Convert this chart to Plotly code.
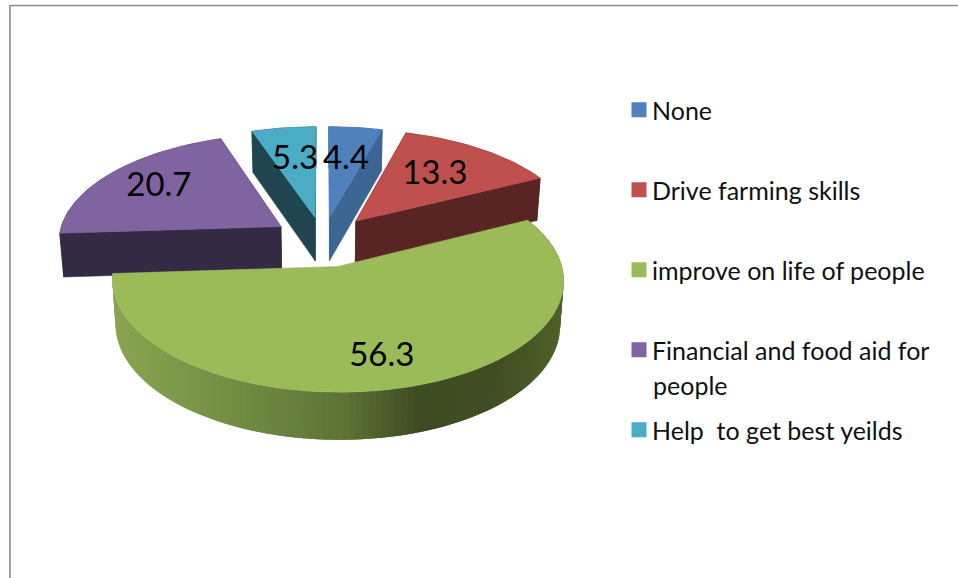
import math
import plotly.graph_objects as go

# Data
categories = ["None", "Drive farming skills", "improve on life of people",
              "Financial and food aid for", "Help  to get best yeilds"]
category_continuation = "people"
values = [4.4, 13.3, 56.3, 20.7, 5.3]
value_labels = ["4.4", "13.3", "56.3", "20.7", "5.3"]

# Style
top_colors = ["#4f81bd", "#c0504d", "#9bbb59", "#8064a2", "#4bacc6"]
wall_colors = ["#3c6594", "#592424", "#5f7336", "#352a44", "#1f4650"]
green_stops = [(112, (138, 165, 81)), (230, (116, 143, 68)), (350, (94, 115, 54)),
               (425, (63, 75, 34)), (500, (64, 77, 35)), (562, (78, 96, 42))]
draw_order = [0, 4, 1, 3, 2]
label_radius = [0.60, 0.61, 0.75, 0.71, 0.61]
label_turn = [0, 0, 2, 0, 0]
slice_explode = [0.22, 0.235, 0.25, 0.23, 0.22]
slice_radius = [1, 1, 0.975, 1, 1]
FONT = "Lato, Carlito, Calibri, sans-serif"

# Projection of the tilted, exploded pie
CX, CY, RX, RY, K = 323, 240, 223, 106.7, 0.121
DEPTH = 44


def project(X, Y, z=0):
    w = 1 + K * Y
    sx = CX + RX * X / w * (1 - 0.015 * z)
    sy = CY - RY * Y / w + z * DEPTH / math.sqrt(w)
    return sx, sy


def disc(angle_deg, r, offset):
    a = math.radians(angle_deg)
    return offset[0] + r * math.sin(a), offset[1] + r * math.cos(a)


def poly(points, color, width=0.6):
    xs = [p[0] for p in points] + [points[0][0]]
    ys = [p[1] for p in points] + [points[0][1]]
    return go.Scatter(x=xs, y=ys, mode="lines", fill="toself", fillcolor=color,
                      line=dict(color=color, width=width), hoverinfo="skip",
                      showlegend=False)


def shade(x):
    if x <= green_stops[0][0]:
        return "rgb(%d,%d,%d)" % green_stops[0][1]
    for (x0, c0), (x1, c1) in zip(green_stops, green_stops[1:]):
        if x <= x1:
            t = (x - x0) / (x1 - x0)
            return "rgb(%d,%d,%d)" % tuple(round(a + (b - a) * t) for a, b in zip(c0, c1))
    return "rgb(%d,%d,%d)" % green_stops[-1][1]


total = sum(values)
slices = []
start = 0.0
for v in values:
    sweep = v / total * 360
    slices.append((start, start + sweep))
    start += sweep

fig = go.Figure()
label_pts = {}

for i in draw_order:
    a0, a1 = slices[i]
    mid = (a0 + a1) / 2
    off = disc(mid, slice_explode[i], (0, 0))
    n = max(4, int((a1 - a0) / 1.5))
    angles = [a0 + (a1 - a0) * j / n for j in range(n + 1)]
    arc = [disc(a, slice_radius[i], off) for a in angles]

    if i != 2:
        for edge in (arc[0], arc[-1]):
            fig.add_trace(poly([project(*off), project(*edge),
                                project(*edge, 1), project(*off, 1)], wall_colors[i]))
        fig.add_trace(poly([project(*p) for p in arc] +
                           [project(*p, 1) for p in reversed(arc)], wall_colors[i]))
    else:
        # gradient wall: each band overlaps the next so no seams show
        for j in range(len(arc) - 1, 0, -1):
            p, q = arc[j - 1], arc[min(j + 1, len(arc) - 1)]
            x_mid = (project(*arc[j - 1])[0] + project(*arc[j])[0]) / 2
            fig.add_trace(poly([project(*p), project(*q),
                                project(*q, 1), project(*p, 1)], shade(x_mid), width=0))

    fig.add_trace(poly([project(*off)] + [project(*p) for p in arc], top_colors[i]))
    label_pts[i] = project(*disc(mid + label_turn[i], label_radius[i], off))

# Data labels
fig.add_trace(go.Scatter(
    x=[label_pts[i][0] for i in range(len(values))],
    y=[label_pts[i][1] for i in range(len(values))],
    text=value_labels, mode="text", textposition="middle center",
    textfont=dict(family=FONT, size=33, color="#000000"),
    hoverinfo="skip", showlegend=False))

# Legend entries
for i, name in enumerate(categories):
    fig.add_trace(go.Scatter(
        x=[None], y=[None], mode="markers", name=name, legendgroup=name,
        marker=dict(symbol="square", size=15, color=top_colors[i], angle=90, standoff=7)))

fig.update_layout(
    width=958, height=578, margin=dict(l=0, r=0, t=0, b=0), autosize=False,
    paper_bgcolor="white", plot_bgcolor="white",
    xaxis=dict(range=[0, 958], visible=False, fixedrange=True),
    yaxis=dict(range=[578, 0], visible=False, fixedrange=True),
    legend=dict(x=618.5 / 958, y=1 - 87 / 578, font=dict(family=FONT, size=25, color="#111111"),
                bgcolor="rgba(0,0,0,0)", xanchor="left", yanchor="top",
                itemclick=False, itemdoubleclick=False, indentation=-6.5,
                traceorder="grouped", tracegroupgap=44.5, itemwidth=30),
    annotations=[dict(text=category_continuation, xref="paper", yref="paper",
                      x=651 / 958, y=1 - 385 / 578, xanchor="left", yanchor="middle",
                      showarrow=False, font=dict(family=FONT, size=25, color="#111111"))],
    shapes=[
        dict(type="line", xref="paper", yref="paper", x0=10 / 958, x1=1, y0=1 - 5.5 / 578,
             y1=1 - 5.5 / 578, line=dict(color="#8a8a8a", width=1.6)),
        dict(type="line", xref="paper", yref="paper", x0=10 / 958, x1=10 / 958, y0=1 - 5 / 578,
             y1=0, line=dict(color="#8a8a8a", width=1.6)),
    ],
)

fig.write_html("out.html", config=dict(displayModeBar=False),
               post_script="document.body.style.margin='0';document.documentElement.style.overflow='hidden';")
